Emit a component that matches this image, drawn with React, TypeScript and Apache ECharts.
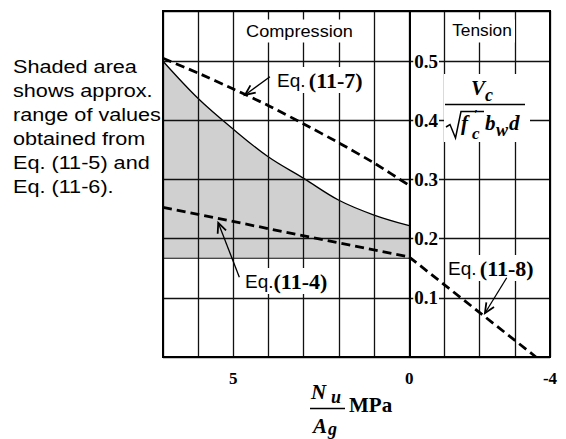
import React, { useEffect, useRef } from "react";
import * as echarts from "echarts";

// Nu/Ag (MPa), compression positive
const nuAg = [7, 6, 5, 4, 3, 2, 1, 0];
const shadedUpper = [0.5, 0.437, 0.385, 0.338, 0.302, 0.265, 0.24, 0.222];
const shadedLower = [0.167, 0.167, 0.167, 0.167, 0.167, 0.167, 0.167, 0.167];
const eq117Values = [0.505, 0.48, 0.453, 0.425, 0.394, 0.362, 0.328, 0.29];
const eq114X = [7, 0];
const eq114Values = [0.253, 0.169];
const eq118X = [0, -3.6];
const eq118Values = [0.169, 0];

const xTickLabels = [5, 0, -4];
const yTickLabels = [0.1, 0.2, 0.3, 0.4, 0.5];

// arrows: [tail x, tail y, head x, head y] in data units
const arrowEq117 = [3.96, 0.474, 4.67, 0.443];
const arrowEq114 = [4.83, 0.135, 5.43, 0.227];
const arrowEq118 = [-2.77, 0.134, -2.15, 0.074];

const noteLines = ["Shaded area", "shows approx.", "range of values", "obtained from", "Eq. (11-5) and", "Eq. (11-6)."];
const eqNames = ["(11-7)", "(11-4)", "(11-8)"];

const SERIF = '"Liberation Serif", "Times New Roman", serif';
const SANS = '"Liberation Sans", Arial, sans-serif';

const GRID_LEFT = 163;
const GRID_RIGHT = 16;
const WIDTH = 566;
const X_MIN = -4;
const X_MAX = 7;

export default function App() {
  const ref = useRef<HTMLDivElement>(null);
  useEffect(() => {
    if (!ref.current) return;
    const chart = echarts.init(ref.current, null, { renderer: "svg" });
    const dashed = { color: "#000", width: 2.8, type: [9, 5] as any };
    const serifIt = (text: string, x: number, y: number, size: number) => ({
      type: "text", x, y, z: 11,
      style: { text, fontFamily: SERIF, fontStyle: "italic", fontWeight: "bold", fontSize: size, fill: "#000", align: "left", verticalAlign: "middle" },
    });
    const eqRich = {
      a: { fontFamily: SANS, fontSize: 19, color: "#000" },
      b: { fontFamily: SERIF, fontWeight: "bold", fontSize: 22, color: "#000" },
    };
    const gridWidth = WIDTH - GRID_LEFT - GRID_RIGHT;
    const zeroOffset = -((X_MAX - 0) / (X_MAX - X_MIN)) * gridWidth;
    const option: any = {
      animation: false,
      grid: { left: GRID_LEFT, right: GRID_RIGHT, top: 11, bottom: 82, show: true, borderColor: "#000", borderWidth: 2, backgroundColor: "transparent", z: 8 },
      xAxis: {
        type: "value", min: X_MIN, max: X_MAX, interval: 1, inverse: true, z: 3,
        axisLine: { show: false, onZero: false }, axisTick: { show: false },
        splitLine: { show: true, lineStyle: { color: "#111", width: 1.3 } },
        axisLabel: {
          margin: 13, color: "#000", fontFamily: SERIF, fontWeight: "bold", fontSize: 17,
          formatter: (v: number) => (xTickLabels.some((t) => Math.abs(t - v) < 1e-6) ? String(v) : ""),
        },
      },
      yAxis: {
        type: "value", min: 0, max: 0.585, interval: 0.1, z: 3, position: "left", offset: zeroOffset,
        axisLine: { show: true, onZero: false, lineStyle: { color: "#000", width: 2 } },
        axisTick: { show: false },
        splitLine: { show: true, lineStyle: { color: "#111", width: 1.3 } },
        axisLabel: {
          inside: true, margin: 4, color: "#000", fontFamily: SERIF, fontWeight: "bold", fontSize: 19,
          backgroundColor: "#fff", padding: [0, 1],
          showMinLabel: false, showMaxLabel: false,
          formatter: (v: number) => (yTickLabels.some((t) => Math.abs(t - v) < 1e-6) ? v.toFixed(1) : ""),
        },
      },
      series: [
        {
          type: "line", name: "Eq. (11-5)/(11-6) upper", symbol: "none", smooth: 0.35, z: 1,
          data: nuAg.map((x, i) => [x, shadedUpper[i]]),
          lineStyle: { color: "#000", width: 1.3 },
          areaStyle: { color: "#d0d0d0", opacity: 1 },
        },
        {
          type: "line", name: "lower", symbol: "none", z: 2,
          data: nuAg.map((x, i) => [x, shadedLower[i]]),
          lineStyle: { color: "#111", width: 1.2 },
          areaStyle: { color: "#ffffff", opacity: 1 },
        },
        {
          type: "line", name: "Eq. (11-7)", symbol: "none", smooth: 0.2, z: 5,
          data: nuAg.map((x, i) => [x, eq117Values[i]]), lineStyle: dashed,
        },
        {
          type: "line", name: "Eq. (11-4)", symbol: "none", z: 5,
          data: eq114X.map((x, i) => [x, eq114Values[i]]), lineStyle: dashed,
        },
        {
          type: "line", name: "Eq. (11-8)", symbol: "none", z: 5,
          data: eq118X.map((x, i) => [x, eq118Values[i]]), lineStyle: dashed,
        },
        {
          type: "custom", name: "arrows", z: 12,
          encode: { x: [0, 2], y: [1, 3] },
          data: [arrowEq117, arrowEq114, arrowEq118],
          renderItem: (params: any, api: any) => {
            const a = api.coord([api.value(0), api.value(1)]);
            const b = api.coord([api.value(2), api.value(3)]);
            const ang = Math.atan2(b[1] - a[1], b[0] - a[0]);
            const L = 11, w = 0.42;
            const h1 = [b[0] - L * Math.cos(ang - w), b[1] - L * Math.sin(ang - w)];
            const h2 = [b[0] - L * Math.cos(ang + w), b[1] - L * Math.sin(ang + w)];
            return {
              type: "group",
              children: [
                { type: "line", shape: { x1: a[0], y1: a[1], x2: b[0], y2: b[1] }, style: { stroke: "#000", lineWidth: 1.3 } },
                { type: "polyline", shape: { points: [h1, b, h2] }, style: { stroke: "#000", lineWidth: 1.8, fill: null } },
              ],
            };
          },
        },
      ],
      graphic: [
        ...noteLines.map((t, i) => ({
          type: "text", x: 13, y: 67 + i * 24, scaleX: 1.17, z: 11,
          style: { text: t, fontFamily: SANS, fontSize: 18.5, fill: "#000", align: "left", verticalAlign: "middle" },
        })),
        {
          type: "text", x: 299.5, y: 31, scaleX: 1.1, z: 11,
          style: { text: "Compression", fontFamily: SANS, fontSize: 16.5, fill: "#000", align: "center", verticalAlign: "middle", backgroundColor: "#fff", padding: [3, 3] },
        },
        {
          type: "text", x: 482, y: 31, scaleX: 1.05, z: 11,
          style: { text: "Tension", fontFamily: SANS, fontSize: 16.5, fill: "#000", align: "center", verticalAlign: "middle", backgroundColor: "#fff", padding: [3, 3] },
        },
        {
          type: "text", x: 275, y: 80, z: 11,
          style: { text: "{a|Eq.} {b|" + eqNames[0] + "}", rich: eqRich, align: "left", verticalAlign: "middle", backgroundColor: "#fff", padding: [2, 2] },
        },
        {
          type: "text", x: 243, y: 281, z: 11,
          style: { text: "{a|Eq.}{b|" + eqNames[1] + "}", rich: eqRich, align: "left", verticalAlign: "middle", backgroundColor: "#fff", padding: [2, 2] },
        },
        {
          type: "text", x: 446, y: 268, z: 11,
          style: { text: "{a|Eq.} {b|" + eqNames[2] + "}", rich: eqRich, align: "left", verticalAlign: "middle", backgroundColor: "#fff", padding: [2, 2] },
        },
        // y-axis name: Vc / (sqrt(f'c) bw d)
        { type: "rect", shape: { x: 444, y: 74, width: 86, height: 68 }, style: { fill: "#fff" }, z: 10 },
        serifIt("V", 471, 88, 21),
        serifIt("c", 485, 95, 18),
        { type: "line", shape: { x1: 445, y1: 104.5, x2: 525, y2: 104.5 }, style: { stroke: "#000", lineWidth: 1.5 }, z: 11 },
        { type: "polyline", shape: { points: [[446, 127], [450, 124.5], [455.5, 138], [461, 111.5], [484, 111.5]] }, style: { stroke: "#000", lineWidth: 1.5, fill: null }, z: 11 },
        serifIt("f", 461, 123, 21),
        serifIt("\u2032", 474, 113, 13),
        serifIt("c", 472, 133, 17),
        serifIt("b", 485, 123, 21),
        serifIt("w", 496, 130, 18),
        serifIt("d", 509, 123, 21),
        // x-axis name: Nu / Ag MPa
        serifIt("N", 311, 391.5, 21),
        serifIt("u", 331, 397, 18),
        { type: "line", shape: { x1: 310, y1: 408.5, x2: 345, y2: 408.5 }, style: { stroke: "#000", lineWidth: 1.5 }, z: 11 },
        serifIt("A", 313, 426, 21),
        serifIt("g", 328, 429, 18),
        {
          type: "text", x: 349, y: 405, z: 11,
          style: { text: "MPa", fontFamily: SERIF, fontWeight: "bold", fontSize: 21, fill: "#000", align: "left", verticalAlign: "middle" },
        },
      ],
    };
    chart.setOption(option);
    return () => chart.dispose();
  }, []);
  return <div ref={ref} style={{ position: "absolute", left: 0, top: 0, width: 566, height: 439 }} />;
}
